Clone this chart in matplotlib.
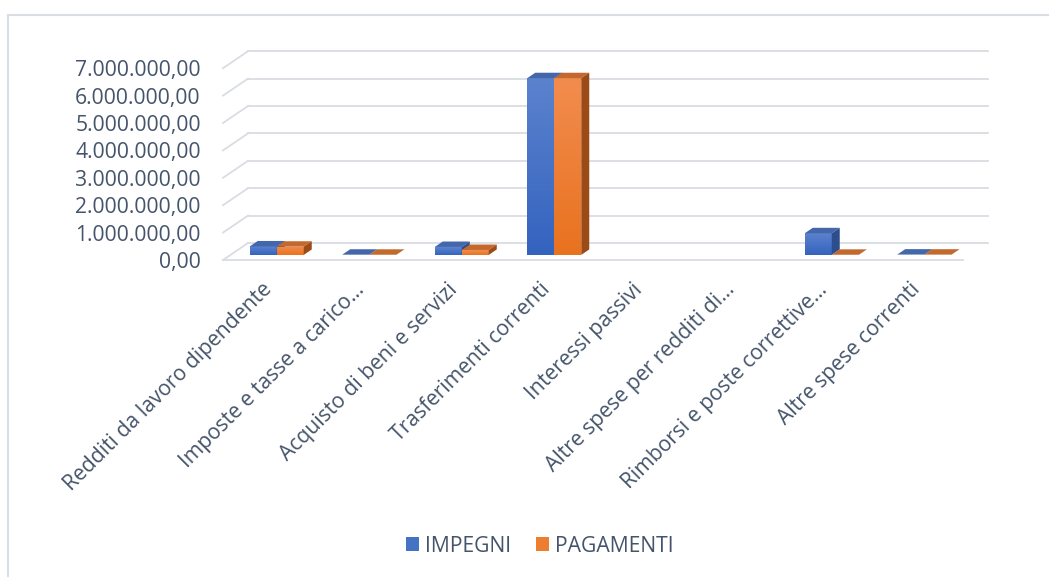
import numpy as np
import matplotlib
matplotlib.use("Agg")
import matplotlib.pyplot as plt
from matplotlib.patches import Polygon, Patch, Rectangle
from matplotlib.colors import LinearSegmentedColormap

plt.rcParams['font.family'] = ['Open Sans', 'DejaVu Sans']

# data
categories = ["Redditi da lavoro dipendente", "Imposte e tasse a carico…",
              "Acquisto di beni e servizi", "Trasferimenti correnti",
              "Interessi passivi", "Altre spese per redditi di…",
              "Rimborsi e poste correttive…", "Altre spese correnti"]
impegni = [310000, 8000, 290000, 6450000, np.nan, np.nan, 790000, 12000]
pagamenti = [300000, 6000, 180000, 6450000, np.nan, np.nan, 5000, 10000]
series_names = ["IMPEGNI", "PAGAMENTI"]
y_ticks = [0, 1e6, 2e6, 3e6, 4e6, 5e6, 6e6, 7e6]

TEXT = '#44546A'
GRID = '#D9DDE3'
FRONT = ['#4472C4', '#ED7D31']
GRAD = [('#3463BF', '#5B82CD'), ('#E9721F', '#F28C4E')]
TOP = ['#4467AC', '#C4692E']
SIDE = ['#2D4E8C', '#9C4A16']
FS = 15.2

W, H = 1049, 577
PX_X = 92.5            # pixels per category
PX_Y = 27.4 / 1e6      # pixels per value unit
DX = 25 / PX_X         # depth offset of the back wall (data units)
DY = 17 / PX_Y
D0 = 0.30              # bar front depth fraction
DD = 0.32              # bar depth fraction
BW = 27 / PX_X         # bar width


def fmt_it(v):
    s = "{:,.2f}".format(v)
    return s.replace(",", "X").replace(".", ",").replace("X", ".")


def draw_box(ax, xl, w, bottom, h, k, z):
    bars = ax.bar(xl, h, width=w, bottom=bottom, align='edge', color=FRONT[k],
                  linewidth=0, zorder=z)
    cmap = LinearSegmentedColormap.from_list("g%d" % k, GRAD[k])
    img = ax.imshow(np.linspace(0, 1, 64).reshape(-1, 1), cmap=cmap, origin='lower',
                    extent=[xl, xl + w, bottom, bottom + h], aspect='auto', zorder=z + 0.001)
    img.set_clip_path(bars[0])
    t = bottom + h
    ddx, ddy = DD * DX, DD * DY
    ax.add_patch(Polygon([(xl, t), (xl + w, t), (xl + w + ddx, t + ddy), (xl + ddx, t + ddy)],
                         closed=True, facecolor=TOP[k], edgecolor='none', zorder=z + 0.002))
    ax.add_patch(Polygon([(xl + w, bottom), (xl + w, t), (xl + w + ddx, t + ddy), (xl + w + ddx, bottom + ddy)],
                         closed=True, facecolor=SIDE[k], edgecolor='none', zorder=z + 0.002))


fig = plt.figure(figsize=(W / 100, H / 100), dpi=100)

x_lo, x_hi = -0.5, 8.0
y_lo, y_hi = 0, 8.0e6
ax = fig.add_axes([223 / W, (H - 260) / H, (x_hi - x_lo) * PX_X / W, (y_hi - y_lo) * PX_Y / H])
for s in ax.spines.values():
    s.set_visible(False)

n = len(categories)
# back wall gridlines + left diagonals
for v in y_ticks:
    ax.plot([-0.5 + DX, n - 0.5 + DX], [v + DY, v + DY], color=GRID, lw=1.3, zorder=1, clip_on=False)
    ax.plot([-0.5, -0.5 + DX], [v, v + DY], color=GRID, lw=1.3, zorder=1, clip_on=False)
# floor front edge
ax.plot([-0.5, n - 0.5], [0, 0], color=GRID, lw=1.3, zorder=1, clip_on=False)

z = 3.0
for i in range(n):
    xc = i + D0 * DX
    base = D0 * DY
    vals = [impegni[i], pagamenti[i]]
    for k in range(2):
        if np.isnan(vals[k]):
            continue
        xl = xc - BW + k * BW
        draw_box(ax, xl, BW, base, vals[k], k, z)
        z += 0.01

ax.set_xlim(x_lo, x_hi)
ax.set_ylim(y_lo, y_hi)
ax.set_yticks(y_ticks)
ax.set_yticklabels([fmt_it(v) for v in y_ticks], fontsize=FS, color=TEXT)
ax.tick_params(axis='y', length=0, pad=16)
ax.set_xticks(range(n))
ax.set_xticklabels(categories, rotation=45, ha='right', va='center',
                   rotation_mode='anchor', fontsize=FS, color=TEXT)
ax.tick_params(axis='x', length=0, pad=19)

handles = [Patch(facecolor=FRONT[0], edgecolor='none'), Patch(facecolor=FRONT[1], edgecolor='none')]
fig.legend(handles, series_names, loc='center', bbox_to_anchor=(540 / W, 1 - 546 / H), ncol=2,
           frameon=False, fontsize=FS, labelcolor=TEXT, handlelength=0.58, handleheight=0.58,
           handletextpad=0.3, columnspacing=1.2)

# chart area border
fig.patches.append(Rectangle((8 / W, -0.02), 1.1, (H - 15) / H + 0.02, transform=fig.transFigure,
                             fill=False, edgecolor='#D9DEE4', lw=1.5))

fig.savefig("out.png", dpi=100, facecolor='white')
